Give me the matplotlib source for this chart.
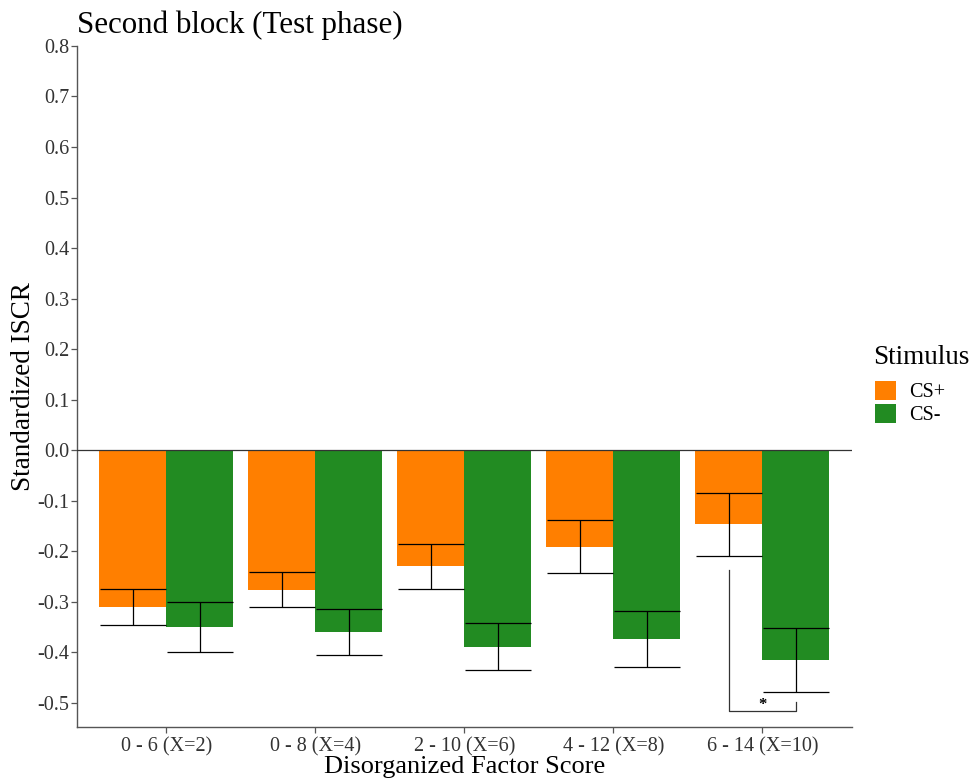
import numpy as np
import matplotlib
matplotlib.use("Agg")
import matplotlib.pyplot as plt
from matplotlib.patches import Patch

plt.rcParams['font.family'] = ['Liberation Serif', 'DejaVu Serif']
plt.rcParams['axes.unicode_minus'] = False

groups = ['0 - 6 (X=2)', '0 - 8 (X=4)', '2 - 10 (X=6)', '4 - 12 (X=8)', '6 - 14 (X=10)']
cs_plus = [-0.311, -0.276, -0.230, -0.191, -0.147]
cs_plus_se = [0.036, 0.035, 0.045, 0.052, 0.063]
cs_minus = [-0.350, -0.360, -0.389, -0.374, -0.415]
cs_minus_se = [0.049, 0.045, 0.047, 0.056, 0.063]

# significance bracket for last group
sig_top = -0.238
sig_bottom = -0.517
sig_right_top = -0.498

orange = '#FF7F00'
green = '#228B22'

fig = plt.figure(figsize=(9.75, 7.79), dpi=100)
ax = fig.add_axes([0.0787, 0.0667, 0.795, 0.8743])

x = np.arange(1, len(groups) + 1)
w = 0.45

ax.bar(x - w/2, cs_plus, width=w, color=orange, edgecolor='none', zorder=2)
ax.bar(x + w/2, cs_minus, width=w, color=green, edgecolor='none', zorder=2)

# caps as wide as the bars (67 px -> 24 pt half-width)
ax.errorbar(x - w/2, cs_plus, yerr=cs_plus_se, fmt='none', ecolor='black',
            elinewidth=0.9, capsize=24, capthick=0.9, zorder=3)
ax.errorbar(x + w/2, cs_minus, yerr=cs_minus_se, fmt='none', ecolor='black',
            elinewidth=0.9, capsize=24, capthick=0.9, zorder=3)

ax.axhline(0, color='#333333', linewidth=0.9, zorder=3)

# bracket
xl = x[-1] - w/2
xr = x[-1] + w/2
ax.plot([xl, xl, xr, xr], [sig_top, sig_bottom, sig_bottom, sig_right_top],
        color='#333333', linewidth=0.9, zorder=3)
ax.text(x[-1], (sig_bottom + sig_right_top) / 2 + 0.003, '*', ha='center', va='center',
        fontsize=12, fontweight='bold', color='black')

yt = np.round(np.arange(-0.5, 0.81, 0.1), 1)
ax.set_xlim(0.4, len(groups) + 0.6)
ax.set_ylim(-0.548, 0.8)
ax.set_yticks(yt)
ax.set_yticklabels(['%.1f' % (v + 0.0) for v in yt])
ax.set_xticks(x)
ax.set_xticklabels(groups)

for s in ['top', 'right']:
    ax.spines[s].set_visible(False)
for s in ['left', 'bottom']:
    ax.spines[s].set_color('#555555')
    ax.spines[s].set_linewidth(1.0)
ax.tick_params(axis='both', colors='#555555', length=4, width=0.9, labelsize=14.5,
               labelcolor='#333333')
ax.tick_params(axis='y', pad=1.5)

ax.set_ylabel('Standardized ISCR', fontsize=19.5)
ax.yaxis.set_label_coords(-0.052, 0.5)
ax.set_xlabel('Disorganized Factor Score', fontsize=19, labelpad=-0.5)
ax.set_title('Second block (Test phase)', fontsize=22.3, loc='left', pad=9)

handles = [Patch(facecolor=orange, edgecolor='none', label='CS+'),
           Patch(facecolor=green, edgecolor='none', label='CS-')]
fig.text(873 / 975, 1 - 357 / 779, 'Stimulus', fontsize=19.5, ha='left', va='center')
leg = fig.legend(handles=handles, loc='upper left',
                 bbox_to_anchor=(875 / 975, 1 - 381 / 779), frameon=False, fontsize=14.5,
                 handlelength=1.05, handleheight=1.05, borderaxespad=0,
                 handletextpad=0.65, labelspacing=0.1, borderpad=0)

fig.savefig('out.png', dpi=100)
